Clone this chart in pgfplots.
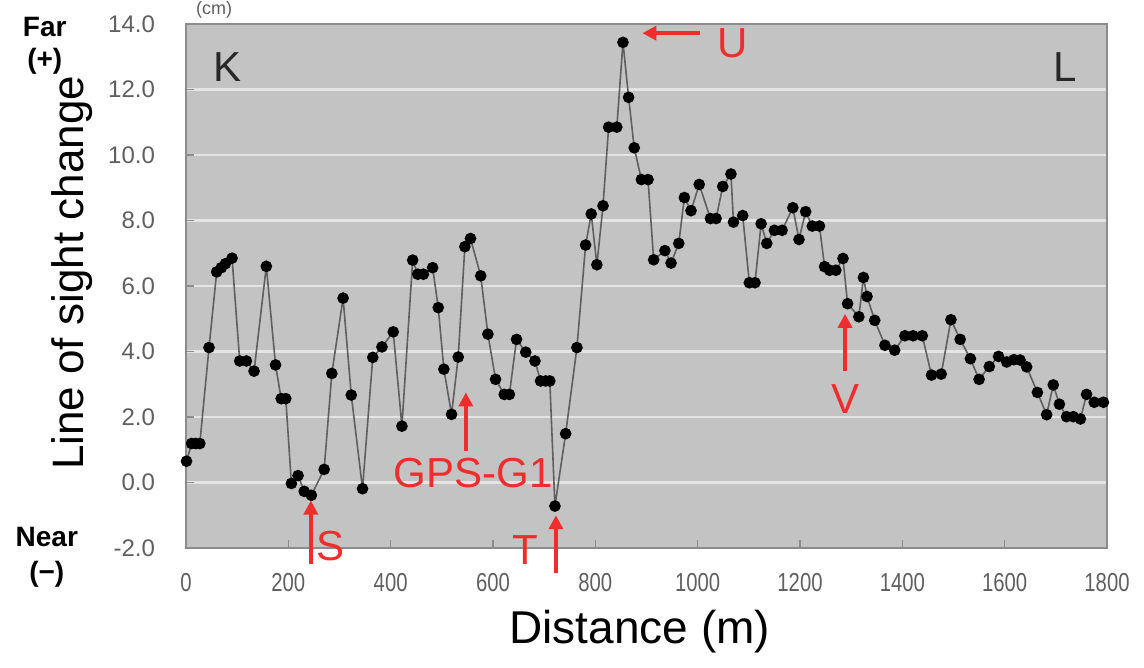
\documentclass[border=0pt]{standalone}
\usepackage{fontspec}
\setmainfont{Liberation Sans}
\usepackage{pgfplots}
\pgfplotsset{compat=1.18}
\usetikzlibrary{arrows.meta}

\definecolor{plotgray}{RGB}{195,195,195}
\definecolor{gridwhite}{RGB}{228,228,228}
\definecolor{tickgray}{RGB}{95,95,95}
\definecolor{framegray}{RGB}{140,140,140}
\definecolor{linegray}{RGB}{95,95,95}
\definecolor{annred}{RGB}{238,45,45}

\begin{document}
\begin{tikzpicture}
\begin{axis}[
    scale only axis,
    width=460.5pt, height=262pt,
    xmin=0, xmax=1800, ymin=-2, ymax=14,
    xtick={0,200,...,1800},
    ytick={-2,0,...,14},
    axis background/.style={fill=plotgray},
    axis line style={draw=framegray, line width=0.9pt},
    ymajorgrids,
    grid style={draw=gridwhite, line width=1.2pt},
    tick align=inside, tick pos=left,
    major tick length=4pt,
    tick style={draw=framegray, line width=0.8pt},
    /pgf/number format/assume math mode=true,
    xticklabel={\scalebox{0.78}[1]{\pgfmathprintnumber[1000 sep={}]{\tick}}},
    xticklabel style={font=\fontsize{13}{15}\selectfont, text=tickgray, yshift=-9pt},
    yticklabel style={font=\fontsize{12}{14}\selectfont, text=tickgray, xshift=-12pt,
        /pgf/number format/.cd, fixed, fixed zerofill, precision=1},
    clip=false,
]
\addplot[color=linegray, line width=0.8pt, mark=*, mark size=2.5pt,
    mark options={fill=black, draw=black, solid}] coordinates {
    (1,0.65)(11,1.19)(19,1.19)(27,1.19)(45,4.12)
    (60,6.43)(69,6.56)(77,6.68)(90,6.85)
    (105,3.71)(118,3.71)(133,3.40)(157,6.6)(175,3.59)
    (186,2.56)(195,2.56)(206,-0.03)(219,0.21)(231,-0.27)(245,-0.39)
    (270,0.40)(285,3.33)(307,5.63)(323,2.67)(345,-0.19)
    (365,3.82)(383,4.14)(405,4.6)(422,1.72)(443,6.79)
    (453,6.36)(464,6.36)(482,6.56)(493,5.34)(504,3.46)(519,2.08)
    (532,3.83)(545,7.2)(556,7.45)(576,6.31)(590,4.53)(605,3.15)
    (622,2.69)(632,2.69)(646,4.37)(664,3.98)(682,3.71)
    (693,3.10)(703,3.10)(711,3.10)(721,-0.72)(742,1.49)(764,4.12)
    (781,7.25)(792,8.2)(803,6.65)(815,8.45)(826,10.85)(842,10.85)
    (854,13.44)(865,11.76)(876,10.22)(890,9.25)(903,9.25)
    (914,6.8)(936,7.08)(948,6.7)(963,7.3)(974,8.7)(987,8.3)
    (1003,9.1)(1025,8.06)(1036,8.06)(1049,9.04)(1065,9.42)(1070,7.95)
    (1088,8.15)(1101,6.1)(1112,6.1)(1124,7.9)(1135,7.3)
    (1150,7.7)(1165,7.7)(1186,8.39)(1198,7.42)(1211,8.27)
    (1224,7.83)(1238,7.83)(1248,6.59)(1258,6.48)(1270,6.48)
    (1284,6.84)(1293,5.46)(1315,5.06)(1324,6.26)(1331,5.68)
    (1346,4.95)(1366,4.19)(1385,4.04)(1405,4.48)(1421,4.48)(1439,4.48)
    (1457,3.28)(1476,3.31)(1495,4.97)(1513,4.37)(1533,3.78)
    (1550,3.15)(1570,3.54)(1588,3.85)(1604,3.68)(1618,3.75)(1630,3.74)
    (1643,3.53)(1664,2.75)(1682,2.07)(1695,2.98)(1707,2.39)
    (1721,2.01)(1734,2.01)(1748,1.94)(1760,2.69)(1775,2.45)(1793,2.45)
};

% corner letters
\node[text={rgb,255:red,40;green,40;blue,40}, font=\fontsize{21}{24}\selectfont] at (axis cs:82,12.7) {K};
\node[text={rgb,255:red,40;green,40;blue,40}, font=\fontsize{21}{24}\selectfont] at (axis cs:1718,12.7) {L};

% red annotations
\begin{scope}[annred, line width=2pt, font=\fontsize{21}{24}\selectfont]
\draw[-{Triangle[length=7pt,width=7pt]}] (axis cs:244,-2.5) -- (axis cs:244,-0.55);
\node[text=annred] at (axis cs:282,-1.95) {S};
\draw[-{Triangle[length=7pt,width=7pt]}] (axis cs:723,-2.75) -- (axis cs:723,-1.0);
\node[text=annred] at (axis cs:664,-2.05) {T};
\draw[-{Triangle[length=7pt,width=7pt]}] (axis cs:547,0.95) -- (axis cs:547,2.75);
\node[text=annred] at (axis cs:561,0.3) {GPS-G1};
\draw[-{Triangle[length=7pt,width=7pt]}] (axis cs:1004,13.72) -- (axis cs:892,13.72);
\node[text=annred] at (axis cs:1068,13.4) {U};
\draw[-{Triangle[length=7pt,width=7pt]}] (axis cs:1288,3.4) -- (axis cs:1288,5.15);
\node[text=annred] at (axis cs:1288,2.55) {V};
\end{scope}

% outer labels
\node[font=\bfseries\fontsize{14}{16}\selectfont] at (axis cs:-276,13.9) {Far};
\node[font=\bfseries\fontsize{14}{16}\selectfont] at (axis cs:-276,12.85) {(+)};
\node[font=\bfseries\fontsize{14}{16}\selectfont] at (axis cs:-272,-1.65) {Near};
\node[font=\bfseries\fontsize{14}{16}\selectfont] at (axis cs:-272,-2.8) {(\textminus)};
\node[rotate=90, font=\fontsize{22}{26}\selectfont] at (axis cs:-223,6.4) {Line of sight change};
\node[text=tickgray, font=\fontsize{9}{11}\selectfont] at (axis cs:55,14.42) {(cm)};
\node[font=\fontsize{23}{27}\selectfont] at (axis cs:887,-4.56) {Distance (m)};

\coordinate (SW) at (rel axis cs:0,0);
\coordinate (NE) at (rel axis cs:1,1);
\end{axis}
\pgfresetboundingbox
\path ([shift={(-93pt,-60pt)}]SW) rectangle ([shift={(18.5pt,12pt)}]NE);
\end{tikzpicture}
\end{document}
